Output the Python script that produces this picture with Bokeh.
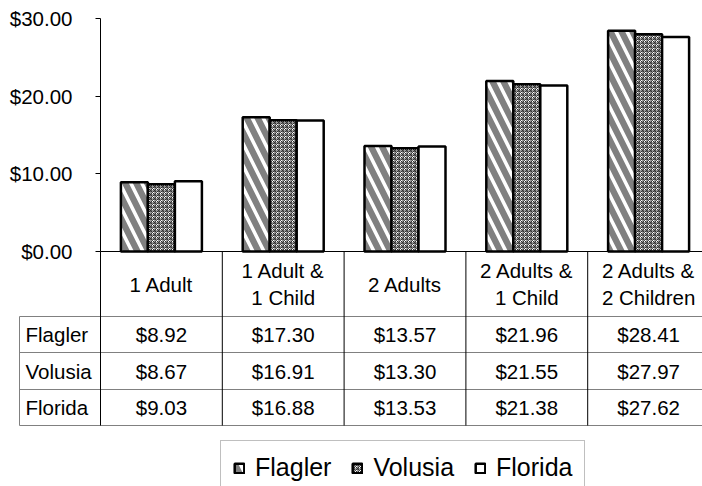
import numpy as np
from bokeh.plotting import figure
from bokeh.models import (Range1d, LinearAxis, FixedTicker, NumeralTickFormatter,
                          Legend, LegendItem, ColumnDataSource)
from bokeh.core.properties import value
from bokeh.embed import file_html
from bokeh.resources import INLINE

# ---------------- data ----------------
categories = ["1 Adult", "1 Adult &\n1 Child", "2 Adults", "2 Adults &\n1 Child", "2 Adults &\n2 Children"]
series = ["Flagler", "Volusia", "Florida"]
flagler = [8.92, 17.30, 13.57, 21.96, 28.41]
volusia = [8.67, 16.91, 13.30, 21.55, 27.97]
florida = [9.03, 16.88, 13.53, 21.38, 27.62]
y_ticks = [0, 10, 20, 30]

values = [flagler, volusia, florida]

# ---------------- layout (pixels of the page) ----------------
W, H = 702, 486
OFF = 0
X0_PX = 100        # image x of first category boundary (y axis)
COL_PX = 121.8     # width of a category column
Y0_PX = 251        # image y of value 0
UNIT_PX = 233 / 30 # pixels per dollar

def xd(px):
    return (px - X0_PX) / COL_PX

def yd(py):
    return (Y0_PX - py) / UNIT_PX

FONT = "Liberation Sans"
FS = "20.5px"

p = figure(width=W, height=H, output_backend="svg", toolbar_location=None,
           x_axis_location=None, y_axis_location=None, min_border=0,
           x_range=Range1d(xd(OFF), xd(OFF + W)), y_range=Range1d(yd(OFF + H), yd(OFF)),
           outline_line_color=None, background_fill_color="white", border_fill_color="white")
p.xgrid.visible = False
p.ygrid.visible = False

# y axis placed at x = 0 (category boundary)
yax = LinearAxis(fixed_location=0, bounds=(0, 30), ticker=FixedTicker(ticks=y_ticks),
                 formatter=NumeralTickFormatter(format="$0.00"))
yax.axis_line_color = "black"
yax.axis_line_width = 1
yax.major_tick_line_color = "black"
yax.major_tick_in = 0
yax.major_tick_out = 5
yax.minor_tick_line_color = None
yax.major_label_standoff = 23
yax.major_label_text_font = FONT
yax.major_label_text_font_size = FS
yax.major_label_text_color = "black"
p.add_layout(yax, "left")

# ---------------- bars ----------------
idx = np.arange(len(categories))
bw = 27 / COL_PX
offsets = [-bw, 0, bw]
styles = [
    dict(fill_color="#808080", hatch_pattern="left_diagonal_line", hatch_color="white",
         hatch_scale=22, hatch_weight=3.5),
    dict(fill_color="white", hatch_pattern="criss_cross", hatch_color="#303030",
         hatch_scale=4, hatch_weight=1.0),
    dict(fill_color="white"),
]
renderers = []
for name, vals, off, st in zip(series, values, offsets, styles):
    src = ColumnDataSource(dict(x=idx + 0.5 + off, top=vals))
    r = p.vbar(x="x", top="top", bottom=0, width=bw, source=src,
               line_color="black", line_width=2.5, **st)
    renderers.append(r)

# ---------------- data table ----------------
header_bottom = yd(316)
row_edges = [yd(316), yd(352), yd(389), yd(425)]
left_edge = xd(19)
right_edge = xd(720)

# x axis line (top of table)
p.segment(x0=0, y0=0, x1=right_edge, y1=0, line_color="black", line_width=1)
# horizontal gray lines
p.segment(x0=[left_edge] * len(row_edges), y0=row_edges,
          x1=[right_edge] * len(row_edges), y1=row_edges,
          line_color="#808080", line_width=1)
# left border of row-label column
p.segment(x0=left_edge, y0=row_edges[0], x1=left_edge, y1=row_edges[-1],
          line_color="#808080", line_width=1)
# vertical column boundaries
bounds = np.arange(len(categories) + 1)
p.segment(x0=bounds, y0=[0] * len(bounds), x1=bounds, y1=[row_edges[-1]] * len(bounds),
          line_color="black", line_width=1)

# header labels
p.text(x=idx + 0.5, y=[(0 + header_bottom) / 2] * len(categories), text=categories,
       text_font=value(FONT), text_font_size=FS, text_align="center",
       text_baseline="middle", text_line_height=1.14, text_color="black")

# rows
for i, (name, vals) in enumerate(zip(series, values)):
    yc = (row_edges[i] + row_edges[i + 1]) / 2
    p.text(x=[xd(25)], y=[yc], text=[name], text_font=value(FONT), text_font_size=FS,
           text_align="left", text_baseline="middle", text_color="black")
    p.text(x=idx + 0.5, y=[yc] * len(vals), text=[f"${v:.2f}" for v in vals],
           text_font=value(FONT), text_font_size=FS, text_align="center",
           text_baseline="middle", text_color="black")

# ---------------- legend ----------------
legend = Legend(items=[LegendItem(label=n, renderers=[r]) for n, r in zip(series, renderers)],
                orientation="horizontal", location=(220 - OFF, -9),
                label_text_font=FONT, label_text_font_size="25px", label_text_color="black",
                glyph_width=12, glyph_height=12, label_height=12, label_standoff=10, spacing=20,
                padding=12, margin=0, border_line_color="#808080", border_line_width=1,
                background_fill_color="white", background_fill_alpha=1.0)
p.add_layout(legend)

open("out.html", "w").write(file_html(p, INLINE))
